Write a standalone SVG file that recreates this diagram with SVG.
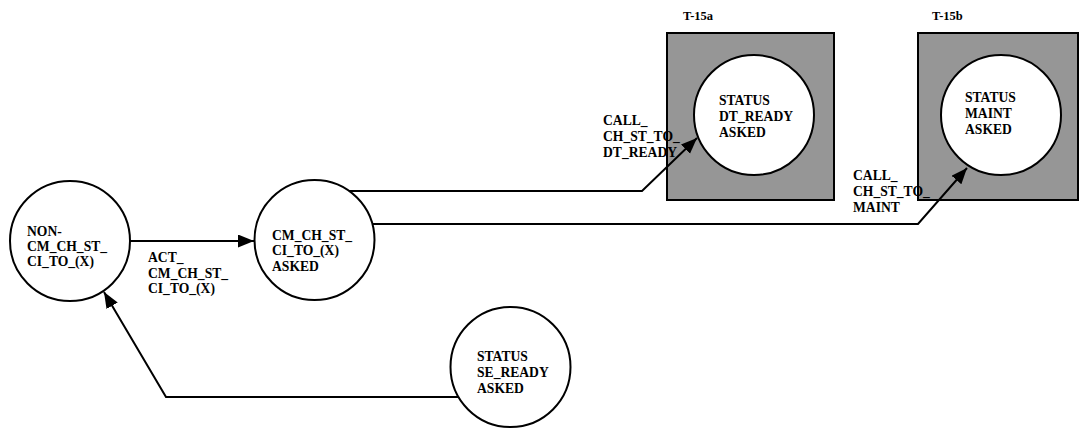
<svg xmlns="http://www.w3.org/2000/svg" width="1079" height="428" viewBox="0 0 1079 428">
<style>
.bg{fill:#ffffff}
.box{fill:#969696;stroke:#000;stroke-width:2}
.st{fill:#ffffff;stroke:#000;stroke-width:2}
.edge{fill:none;stroke:#000;stroke-width:2}
text{font-family:"Liberation Serif","Times New Roman",serif;font-weight:bold;font-size:13.6px;fill:#000}
.ttl{font-size:12.5px}
</style>
<defs>
<marker id="arr" markerUnits="userSpaceOnUse" markerWidth="17" markerHeight="14" refX="16" refY="6.5" orient="auto">
<path d="M0,0 L16,6.5 L0,13 z" fill="#000"/>
</marker>
</defs>
<rect class="bg" x="0" y="0" width="1079" height="428"/>
<g id="box-t15a">
<rect class="box" x="667" y="33" width="167" height="167"/>
<text class="ttl" x="683" y="20">T-15a</text>
</g>
<g id="box-t15b">
<rect class="box" x="918" y="33" width="160" height="167"/>
<text class="ttl" x="932" y="20">T-15b</text>
</g>
<g id="node-non">
<circle class="st" cx="70" cy="241" r="60"/>
<text x="27" y="236">NON-</text>
<text x="27" y="251">CM_CH_ST_</text>
<text x="27" y="266">CI_TO_(X)</text>
</g>
<g id="node-asked">
<circle class="st" cx="314.5" cy="240" r="60"/>
<text x="272" y="239.5">CM_CH_ST_</text>
<text x="272" y="255">CI_TO_(X)</text>
<text x="272" y="270.5">ASKED</text>
</g>
<g id="node-dtready">
<circle class="st" cx="754" cy="115" r="60"/>
<text x="719" y="104.5">STATUS</text>
<text x="719" y="120.5">DT_READY</text>
<text x="719" y="136.5">ASKED</text>
</g>
<g id="node-maint">
<circle class="st" cx="1001" cy="115" r="60"/>
<text x="965" y="101.5">STATUS</text>
<text x="965" y="117.5">MAINT</text>
<text x="965" y="133.5">ASKED</text>
</g>
<g id="node-seready">
<circle class="st" cx="510.5" cy="367" r="60"/>
<text x="477" y="360.5">STATUS</text>
<text x="477" y="376.5">SE_READY</text>
<text x="477" y="392.5">ASKED</text>
</g>
<g id="connectors">
<line class="edge" x1="130" y1="241" x2="254" y2="241" marker-end="url(#arr)"/>
<polyline class="edge" points="349,191 642,191 697,138" marker-end="url(#arr)"/>
<polyline class="edge" points="372,224 918,224 967,168" marker-end="url(#arr)"/>
<polyline class="edge" points="458,397 166,397 104,292" marker-end="url(#arr)"/>
</g>
<g id="labels">
<text x="148" y="262">ACT_</text>
<text x="148" y="277.5">CM_CH_ST_</text>
<text x="148" y="293">CI_TO_(X)</text>
<text x="603" y="124.5">CALL_</text>
<text x="603" y="140.5">CH_ST_TO_</text>
<text x="603" y="156.5">DT_READY</text>
<text x="853" y="179.5">CALL_</text>
<text x="853" y="196">CH_ST_TO_</text>
<text x="853" y="212">MAINT</text>
</g>
</svg>
